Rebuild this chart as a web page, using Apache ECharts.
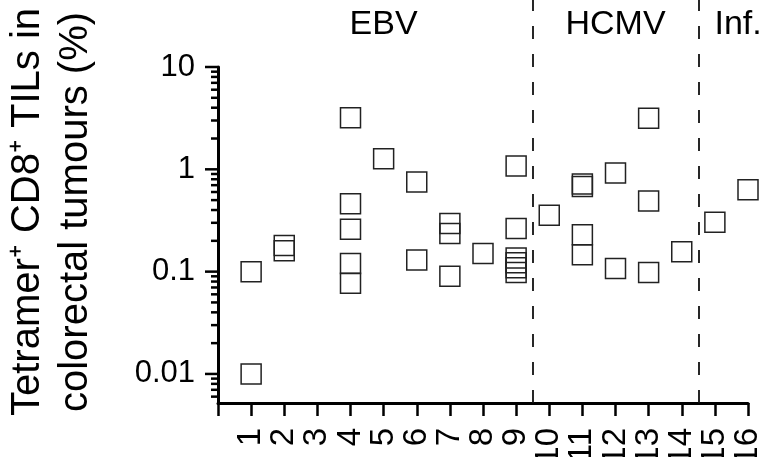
<!DOCTYPE html>
<html>
<head>
<meta charset="utf-8">
<script src="https://cdn.jsdelivr.net/npm/echarts@6/dist/echarts.min.js"></script>
<style>
    html, body { margin: 0; padding: 0; background: #fff; }
    #chart { width: 768px; height: 457px; }
</style>
</head>
<body>
<div id="chart"></div>
<script>
// 数据: 每个样本的位置(1-16)和百分比
var sampleX = [1, 1, 2, 2, 4, 4, 4, 4, 4, 5, 6, 6, 7, 7, 7, 8,
               9, 9, 9, 9, 9, 9, 10, 11, 11, 11, 11, 12, 12, 13, 13, 13, 14, 15, 16];
var sampleY = [0.1, 0.01, 0.18, 0.16, 3.2, 0.46, 0.26, 0.12, 0.077, 1.27, 0.75, 0.13, 0.295, 0.236, 0.09, 0.15,
               1.08, 0.264, 0.136, 0.122, 0.109, 0.098, 0.356, 0.72, 0.68, 0.229, 0.146, 0.92, 0.107, 3.15, 0.49, 0.098, 0.156, 0.304, 0.63];

// 分组
var groupNames = ['EBV', 'HCMV', 'Inf.'];
var groupCenters = [5, 12, 15.7];
var groupBreaks = [9.5, 14.5];

// y轴刻度(对数)
var majorTicks = [0.01, 0.1, 1, 10];
var minorTicks = [0.006, 0.007, 0.008, 0.009,
                  0.02, 0.03, 0.04, 0.05, 0.06, 0.07, 0.08, 0.09,
                  0.2, 0.3, 0.4, 0.5, 0.6, 0.7, 0.8, 0.9,
                  2, 3, 4, 5, 6, 7, 8, 9];

var FONT = '"Liberation Sans", Arial, Helvetica, sans-serif';

var points = [];
for (var i = 0; i < sampleX.length; i++) {
    points.push([sampleX[i], sampleY[i]]);
}

function tickRenderer(len) {
    return function (params, api) {
        var p = api.coord([api.value(0), api.value(1)]);
        return {
            type: 'line',
            shape: { x1: p[0] - len, y1: p[1], x2: p[0], y2: p[1] },
            style: { stroke: '#000', lineWidth: 2.5 }
        };
    };
}

var myChart = echarts.init(document.getElementById('chart'));

var option = {
    animation: false,
    textStyle: { fontFamily: FONT },
    grid: [
        { left: 218, right: 20, top: 67, bottom: 54, outerBoundsMode: 'none' },
        // 用于分组标签和虚线
        { left: 218, right: 20, top: 0, bottom: 54, outerBoundsMode: 'none' }
    ],
    xAxis: [
        {
            type: 'value',
            gridIndex: 0,
            min: 0,
            max: 16,
            interval: 1,
            position: 'bottom',
            axisLine: { onZero: false, lineStyle: { color: '#000', width: 3 } },
            axisTick: { length: 13, lineStyle: { color: '#000', width: 2.5 } },
            splitLine: { show: false },
            axisLabel: {
                rotate: 90,
                margin: 25,
                fontSize: 33,
                color: '#000',
                fontFamily: FONT,
                showMaxLabel: true,
                hideOverlap: false,
                formatter: function (v) { return v === 0 ? '' : String(v); }
            }
        },
        { type: 'value', gridIndex: 1, min: 0, max: 16, show: false }
    ],
    yAxis: [
        {
            type: 'log',
            gridIndex: 0,
            min: 0.0052,
            max: 10,
            axisLine: { show: true, onZero: false, lineStyle: { color: '#000', width: 3 } },
            axisTick: { show: false },
            splitLine: { show: false },
            axisLabel: {
                margin: 23,
                fontSize: 31,
                color: '#000',
                fontFamily: FONT,
                formatter: function (v) {
                    var e = Math.log10(v);
                    if (Math.abs(e - Math.round(e)) > 1e-6) return '';
                    return String(Math.pow(10, Math.round(e)));
                }
            },
            name: 'Tetramer\u207A CD8\u207A TILs in\ncolorectal tumours (%)',
            nameLocation: 'middle',
            nameRotate: 90,
            nameGap: 118,
            nameTextStyle: {
                fontSize: 40,
                lineHeight: 48,
                color: '#000',
                fontFamily: FONT,
                padding: [0, 0, 0, 46]
            }
        },
        { type: 'value', gridIndex: 1, min: 0, max: 1, show: false }
    ],
    series: [
        {
            type: 'scatter',
            xAxisIndex: 0,
            yAxisIndex: 0,
            symbol: 'rect',
            symbolSize: 20,
            itemStyle: { color: 'rgba(0,0,0,0)', borderColor: '#222', borderWidth: 1.5, opacity: 1 },
            emphasis: { disabled: true },
            data: points
        },
        {
            type: 'custom',
            xAxisIndex: 0,
            yAxisIndex: 0,
            silent: true,
            renderItem: tickRenderer(13),
            data: majorTicks.map(function (v) { return [0, v]; })
        },
        {
            type: 'custom',
            xAxisIndex: 0,
            yAxisIndex: 0,
            silent: true,
            renderItem: tickRenderer(7),
            data: minorTicks.map(function (v) { return [0, v]; })
        },
        {
            // 分组标签 + 分隔虚线
            type: 'custom',
            xAxisIndex: 1,
            yAxisIndex: 1,
            silent: true,
            renderItem: function (params, api) {
                var p = api.coord([api.value(0), 0.94]);
                return {
                    type: 'text',
                    x: p[0],
                    y: p[1],
                    style: {
                        text: groupNames[params.dataIndex],
                        fill: '#000',
                        font: '34px ' + FONT,
                        align: 'center',
                        verticalAlign: 'middle'
                    }
                };
            },
            data: groupCenters.map(function (c) { return [c, 0.94]; }),
            markLine: {
                silent: true,
                symbol: ['none', 'none'],
                label: { show: false },
                lineStyle: { color: '#111', width: 1.8, type: [13, 15] },
                data: groupBreaks.map(function (b) { return { xAxis: b }; })
            }
        }
    ]
};

myChart.setOption(option);
</script>
</body>
</html>
